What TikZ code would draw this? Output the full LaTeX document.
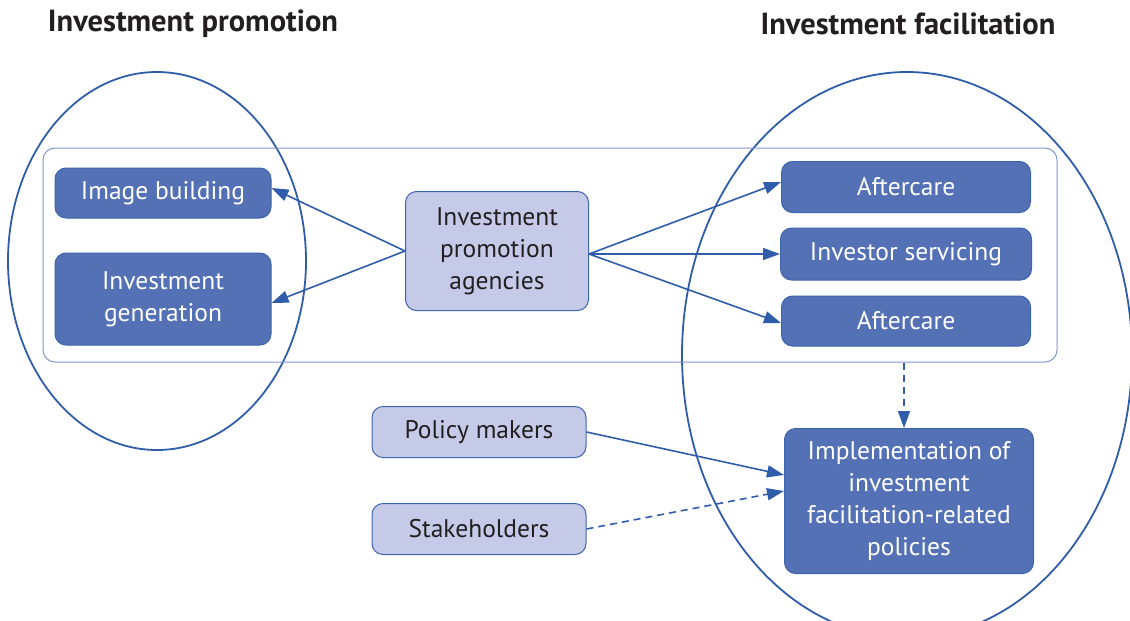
\documentclass[tikz,border=0pt]{standalone}
\usepackage{fontspec}
\setmainfont{PT Sans}
\usetikzlibrary{arrows.meta}
\definecolor{darkbox}{HTML}{5471B5}
\definecolor{lightbox}{HTML}{C5CAE8}
\definecolor{edgeblue}{HTML}{3E64AE}
\definecolor{linkblue}{HTML}{2F5DAA}
\definecolor{framec}{HTML}{8495CC}
\definecolor{ink}{HTML}{231F20}
\tikzset{
  darknode/.style={draw=edgeblue, line width=1pt, fill=darkbox, rounded corners=11pt, text=white, align=center, inner sep=0pt, font=\fontsize{25.5}{32}\selectfont},
  lightnode/.style={draw=edgeblue, line width=1pt, fill=lightbox, rounded corners=11pt, text=ink, align=center, inner sep=0pt, font=\fontsize{25.5}{32}\selectfont},
  titletext/.style={text=ink, font=\fontsize{30.5}{32}\selectfont\bfseries, inner sep=0pt},
  link/.style={draw=linkblue, line width=1.6pt, -{Triangle[length=17pt,width=12pt]}},
  dlink/.style={link, dash pattern=on 7pt off 5pt},
  ring/.style={draw=linkblue, line width=1.8pt},
  framebox/.style={draw=framec, line width=1pt, rounded corners=12pt, inner sep=0pt}
}
\begin{document}
\begin{tikzpicture}[x=1pt,y=-1pt]
\useasboundingbox (0,0) rectangle (1130,621);
\node[titletext] (t1) at (193,24) {Investment promotion};
\node[titletext] (t2) at (908,24) {Investment facilitation};
\draw[ring] (157,261) ellipse [x radius=149, y radius=189];
\draw[ring] (907,355) ellipse [x radius=225, y radius=283];
\node[framebox, minimum width=1014pt, minimum height=214pt] (frame) at (550,255) {};
\node[darknode, minimum width=216pt, minimum height=50pt] (img) at (163,193) {Image building};
\node[darknode, minimum width=216pt, minimum height=92pt] (gen) at (163,299) {Investment\\generation};
\node[lightnode, minimum width=183pt, minimum height=119pt] (ipa) at (497,251) {Investment\\promotion\\agencies};
\node[darknode, minimum width=249pt, minimum height=51pt] (ac1) at (906,187) {Aftercare};
\node[darknode, minimum width=251pt, minimum height=52pt] (inv) at (906,254) {Investor servicing};
\node[darknode, minimum width=249pt, minimum height=50pt] (ac2) at (906,321) {Aftercare};
\node[darknode, minimum width=249pt, minimum height=145pt] (impl) at (909,501) {Implementation of\\investment\\facilitation-related\\policies};
\node[lightnode, minimum width=214pt, minimum height=51pt] (pm) at (479,432) {Policy makers};
\node[lightnode, minimum width=214pt, minimum height=51pt] (sh) at (479,529) {Stakeholders};
\draw[link] (ipa.west) -- ([yshift=5pt]img.east);
\draw[link] (ipa.west) -- ([yshift=-4pt]gen.east);
\draw[link] ([yshift=-3pt]ipa.east) -- ([yshift=5pt]ac1.west);
\draw[link] ([yshift=-3pt]ipa.east) -- (inv.west);
\draw[link] ([yshift=-3pt]ipa.east) -- ([yshift=-2pt]ac2.west);
\draw[dlink] ([xshift=-5pt]impl.north |- frame.south) -- ([xshift=-5pt]impl.north);
\draw[link] (pm.east) -- ([yshift=26pt]impl.west);
\draw[dlink] (sh.east) -- ([yshift=10pt]impl.west);
\end{tikzpicture}
\end{document}
